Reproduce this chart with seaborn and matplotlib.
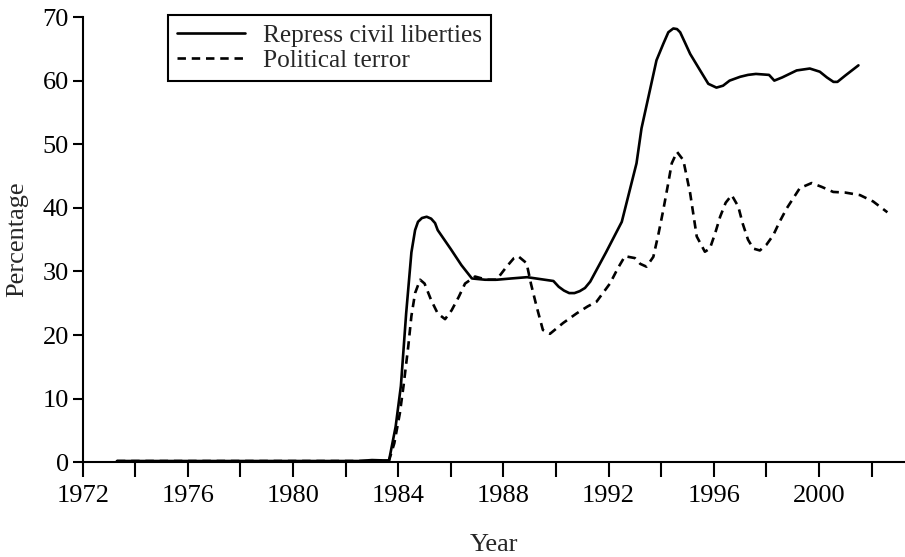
import pandas as pd
import matplotlib.pyplot as plt
import seaborn as sns

# Values
civil_year = [1973.3, 1976, 1980, 1982.5, 1983.0, 1983.4, 1983.65, 1983.9, 1984.1, 1984.3,
              1984.5, 1984.64, 1984.75, 1984.9, 1985.08, 1985.25, 1985.4, 1985.5, 1986.0, 1986.4,
              1986.8, 1987.3, 1987.75, 1988.3, 1988.9, 1989.4, 1989.9, 1990.1, 1990.3, 1990.5,
              1990.7, 1990.9, 1991.1, 1991.3, 1991.9, 1992.5, 1993.06, 1993.25, 1993.57, 1993.82,
              1994.08, 1994.27, 1994.46, 1994.6, 1994.72, 1994.9, 1995.1, 1995.48, 1995.79, 1996.1,
              1996.35, 1996.6, 1997.0, 1997.3, 1997.6, 1998.1, 1998.3, 1998.6, 1999.15, 1999.65,
              2000.03, 2000.3, 2000.55, 2000.7, 2001.0, 2001.5]
civil_pct = [0.2, 0.2, 0.2, 0.2, 0.35, 0.3, 0.3, 5.6, 12, 23.4,
             33, 36.5, 37.8, 38.4, 38.6, 38.3, 37.6, 36.5, 33.5, 31,
             28.9, 28.7, 28.7, 28.9, 29.1, 28.8, 28.5, 27.6, 27.0, 26.6,
             26.6, 26.9, 27.4, 28.4, 33, 37.8, 47, 52.5, 58.5, 63.2,
             65.8, 67.6, 68.2, 68.1, 67.6, 66.0, 64.2, 61.6, 59.5, 58.9,
             59.2, 60.0, 60.6, 60.9, 61.05, 60.9, 60.0, 60.5, 61.6, 61.9,
             61.4, 60.5, 59.8, 59.8, 60.8, 62.4]

terror_year = [1973.3, 1976, 1980, 1983.0, 1983.65, 1983.85, 1984.06, 1984.2, 1984.38, 1984.5,
               1984.64, 1984.83, 1985.0, 1985.25, 1985.5, 1985.78, 1986.03, 1986.3, 1986.54, 1986.92,
               1987.36, 1987.74, 1988.12, 1988.4, 1988.56, 1988.88, 1989.05, 1989.26, 1989.5, 1989.77,
               1990.27, 1990.78, 1991.2, 1991.54, 1992.05, 1992.35, 1992.62, 1993.0, 1993.2, 1993.44,
               1993.7, 1993.9, 1994.08, 1994.25, 1994.4, 1994.6, 1994.84, 1995.1, 1995.35, 1995.66,
               1995.85, 1996.05, 1996.24, 1996.45, 1996.68, 1996.93, 1997.1, 1997.3, 1997.5, 1997.75,
               1998.0, 1998.26, 1998.5, 1998.77, 1999.27, 1999.72, 2000.1, 2000.54, 2001.0, 2001.56,
               2002.06, 2002.6]
terror_pct = [0.2, 0.2, 0.2, 0.2, 0.3, 3, 7.7, 12, 18.2, 23,
              26.6, 28.7, 28.1, 25.5, 23.4, 22.5, 23.9, 26, 28.1, 29.2,
              28.7, 28.7, 30.75, 32.1, 32.4, 31.3, 28, 24.5, 20.8, 20.2,
              21.9, 23.4, 24.5, 25.25, 28.1, 30.5, 32.4, 32.1, 31.2, 30.75,
              32.3, 36, 39.7, 43.5, 47, 48.8, 47.5, 42.3, 35.5, 33.1,
              33.6, 36, 38.6, 40.8, 42, 40.2, 37.5, 35, 33.6, 33.3,
              34.2, 35.7, 37.8, 39.9, 43.1, 43.9, 43.3, 42.5, 42.4, 42.0,
              41.0, 39.3]

tick_years = list(range(1972, 2003, 2))
tick_labels = [str(y) if (y - 1972) % 4 == 0 else '' for y in tick_years]

civil = pd.DataFrame({'year': civil_year, 'pct': civil_pct})
terror = pd.DataFrame({'year': terror_year, 'pct': terror_pct})

sns.set_style('ticks')
plt.rcParams['font.family'] = ['Liberation Serif', 'DejaVu Serif']

fig = plt.figure(figsize=(9.05, 5.57), dpi=100)
ax = fig.add_axes([82.7 / 905, (557 - 462.3) / 557, 822.3 / 905, 445.3 / 557])

sns.lineplot(data=civil, x='year', y='pct', ax=ax, color='black', lw=1.9,
             label='Repress civil liberties')
sns.lineplot(data=terror, x='year', y='pct', ax=ax, color='black', lw=1.9,
             linestyle=(0, (3.2, 2.2)), label='Political terror')

ax.set_xlim(1972, 2003.27)
ax.set_ylim(0, 70)
ax.set_xticks(tick_years)
ax.set_xticklabels(tick_labels)
ax.set_yticks(range(0, 71, 10))
ax.tick_params(axis='x', length=11, width=1.5, labelsize=19, pad=5, colors='black')
ax.tick_params(axis='y', length=7, width=1.5, labelsize=19, pad=3, colors='black')
for s in ['top', 'right']:
    ax.spines[s].set_visible(False)
for s in ['left', 'bottom']:
    ax.spines[s].set_linewidth(1.5)
    ax.spines[s].set_color('black')

ax.set_xlabel('Year', fontsize=19, labelpad=20)
ax.set_ylabel('Percentage', fontsize=19, labelpad=10)

leg = ax.legend(loc='upper left', bbox_to_anchor=(0.1037, 1.0045), borderaxespad=0,
                fontsize=18.2, frameon=True, fancybox=False, edgecolor='black', framealpha=1,
                borderpad=0.35, handlelength=2.7, handletextpad=0.7, labelspacing=0.12)
leg.get_frame().set_linewidth(1.5)

fig.savefig('out.png', dpi=100)
